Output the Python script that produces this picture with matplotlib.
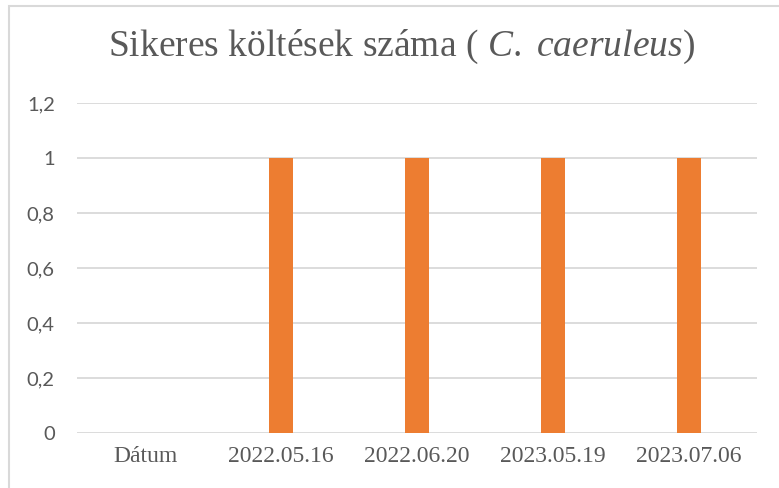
import matplotlib
matplotlib.use("Agg")
import matplotlib.pyplot as plt
import numpy as np
from matplotlib.patches import Rectangle

# data
categories = ["Dátum", "2022.05.16", "2022.06.20", "2023.05.19", "2023.07.06"]
values = [0, 1, 1, 1, 1]
y_ticks = [0, 0.2, 0.4, 0.6, 0.8, 1.0, 1.2]
y_labels = ["0", "0,2", "0,4", "0,6", "0,8", "1", "1,2"]

text_col = "#595959"
grid_col = "#D9D9D9"
bar_col = "#ED7D31"

# italic species name in the title: use the serif family for mathtext too
plt.rcParams["mathtext.fontset"] = "custom"
plt.rcParams["mathtext.rm"] = "Liberation Serif"
plt.rcParams["mathtext.it"] = "Liberation Serif:italic"

fig = plt.figure(figsize=(7.79, 4.88), dpi=100)
ax = fig.add_axes([77 / 779, 1 - 433 / 488, 680 / 779, 330 / 488])

x = np.arange(len(categories))
ax.bar(x, values, width=0.18, color=bar_col, zorder=3)

ax.set_xlim(-0.5, len(categories) - 0.5)
ax.set_ylim(0, 1.2)
ax.set_yticks(y_ticks)
ax.set_yticklabels(y_labels, family="Lato", fontsize=14.5, color=text_col)
ax.set_xticks(x)
ax.set_xticklabels(categories, family="Liberation Serif", fontsize=17, color=text_col)
ax.tick_params(axis="y", length=0, pad=16)
ax.tick_params(axis="x", length=0, pad=9)
ax.grid(axis="y", color=grid_col, linewidth=1.3, zorder=0)
for s in ax.spines.values():
    s.set_visible(False)

fig.text(0.515, 1 - 47 / 488,
         r"Sikeres költések száma ( $\mathit{C.}$ $\mathit{caeruleus}$)",
         ha="center", va="center", fontsize=27, color=text_col,
         family="Liberation Serif")

# chart-area border (right/bottom edges fall outside the crop)
fig.patches.append(Rectangle((8.5 / 779, -0.1), 1.2, 1 - 6.5 / 488 + 0.1,
                             transform=fig.transFigure, fill=False,
                             edgecolor=grid_col, linewidth=1.5))

fig.savefig("out.png", dpi=100)
